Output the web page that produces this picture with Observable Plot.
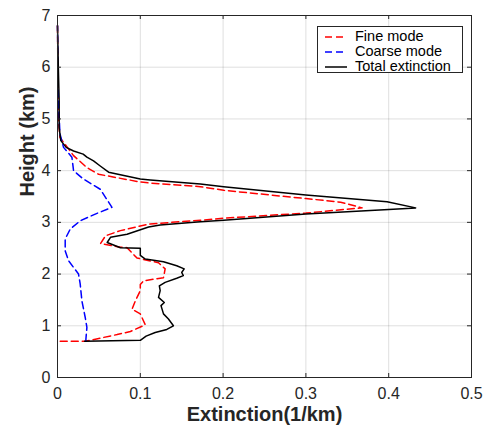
<!DOCTYPE html>
<html><head><meta charset="utf-8">
<script src="https://cdn.jsdelivr.net/npm/d3@7"></script>
<script src="https://cdn.jsdelivr.net/npm/@observablehq/plot@0.6"></script>
<style>
body{margin:0;background:#fff;}
#wrap{position:relative;width:488px;height:430px;font-family:"Liberation Sans",Arial,sans-serif;}
#legend{position:absolute;left:317px;top:26px;width:146px;height:47px;box-sizing:border-box;border:1px solid #262626;background:#fff;}
.row{position:absolute;left:0;height:15px;color:#000;white-space:nowrap;}
.row svg{position:absolute;left:6px;top:3px;}
.row span{position:absolute;left:37px;top:0;display:inline-block;height:15px;line-height:15px;font-size:14.5px;overflow:visible;}
</style></head><body><div id="wrap"></div>
<script>
const seriesNames = ["Fine mode", "Coarse mode", "Total extinction"];
const seriesColors = ["#ff0000", "#0000ff", "#000000"];
const xLabel = "Extinction(1/km)";
const yLabel = "Height (km)";
const xTicks = [0, 0.1, 0.2, 0.3, 0.4, 0.5];
const yTicks = [0, 1, 2, 3, 4, 5, 6, 7];

const fineHeight = [0.70, 0.70, 0.83, 0.89, 1.02, 1.23, 1.32, 1.48, 1.68, 1.80, 1.87, 1.93, 2.10, 2.22, 2.31, 2.51, 2.52, 2.59, 2.74, 2.84, 2.93, 2.97, 3.04, 3.08, 3.18, 3.28, 3.39, 3.46, 3.62, 3.69, 3.76, 3.78, 3.93, 4.06, 4.29, 4.64, 5.0, 6.8];
const fineExt = [0.0033, 0.0335, 0.072, 0.088, 0.106, 0.100, 0.090, 0.094, 0.100, 0.100, 0.104, 0.128, 0.130, 0.122, 0.096, 0.084, 0.076, 0.052, 0.058, 0.076, 0.100, 0.112, 0.1725, 0.2007, 0.300, 0.368, 0.342, 0.300, 0.2007, 0.1725, 0.112, 0.100, 0.0496, 0.0355, 0.0194, 0.003, 0.001, 0.0];

const coarseHeight = [0.70, 0.74, 0.97, 1.16, 1.48, 1.81, 2.00, 2.26, 2.45, 2.68, 2.87, 3.03, 3.16, 3.29, 3.64, 3.84, 4.00, 4.26, 4.45, 4.71, 5.35, 6.8];
const coarseExt = [0.0343, 0.0343, 0.0355, 0.0335, 0.0295, 0.0274, 0.0254, 0.0133, 0.0093, 0.0093, 0.0154, 0.0274, 0.0456, 0.0658, 0.0516, 0.031, 0.0194, 0.0174, 0.0073, 0.003, 0.001, 0.0];

const totalHeight = [0.70, 0.72, 0.80, 0.87, 0.93, 1.00, 1.13, 1.23, 1.39, 1.45, 1.55, 1.68, 1.77, 1.84, 1.92, 1.97, 2.03, 2.10, 2.16, 2.24, 2.29, 2.36, 2.50, 2.51, 2.61, 2.71, 2.77, 2.91, 2.95, 3.01, 3.04, 3.16, 3.25, 3.28, 3.40, 3.53, 3.69, 3.74, 3.82, 3.84, 3.97, 4.09, 4.19, 4.26, 4.32, 4.38, 4.45, 4.58, 4.83, 5.35, 6.0, 6.8];
const totalExt = [0.0327, 0.100, 0.107, 0.118, 0.132, 0.140, 0.134, 0.128, 0.125, 0.129, 0.122, 0.124, 0.123, 0.130, 0.144, 0.152, 0.150, 0.153, 0.144, 0.128, 0.106, 0.100, 0.100, 0.076, 0.060, 0.064, 0.084, 0.110, 0.124, 0.1725, 0.2007, 0.300, 0.400, 0.4326, 0.398, 0.300, 0.2007, 0.1725, 0.112, 0.100, 0.0617, 0.0516, 0.0435, 0.0355, 0.031, 0.0194, 0.0105, 0.004, 0.002, 0.002, 0.001, 0.0];

const toRows = (hs, vs) => hs.map((h, i) => ({h, v: vs[i]}));
const fine = toRows(fineHeight, fineExt);
const coarse = toRows(coarseHeight, coarseExt);
const total = toRows(totalHeight, totalExt);

const W = 488, H = 430, mL = 57, mR = 17, mT = 15, mB = 53;
const pw = W - mL - mR, ph = H - mT - mB;
const axisColor = "#262626";
const tickLen = 4;
const fmt = d => String(d);

const chart = Plot.plot({
  width: W, height: H,
  marginLeft: mL, marginRight: mR, marginTop: mT, marginBottom: mB,
  x: {domain: [0, 0.5]},
  y: {domain: [0, 7]},
  style: {fontFamily: "'Liberation Sans', Arial, sans-serif", fontSize: "16px", background: "#fff", color: axisColor, overflow: "visible"},
  marks: [
    Plot.gridX(xTicks, {stroke: axisColor, strokeOpacity: 0.15}),
    Plot.gridY(yTicks, {stroke: axisColor, strokeOpacity: 0.15}),
    Plot.line(fine, {x: "v", y: "h", stroke: seriesColors[0], strokeWidth: 1.5, strokeDasharray: "7,4"}),
    Plot.line(coarse, {x: "v", y: "h", stroke: seriesColors[1], strokeWidth: 1.5, strokeDasharray: "7,4"}),
    Plot.line(total, {x: "v", y: "h", stroke: seriesColors[2], strokeWidth: 1.5}),
    Plot.ruleX(xTicks, {x: d => d, insetTop: ph - tickLen, stroke: axisColor}),
    Plot.ruleX(xTicks, {x: d => d, insetBottom: ph - tickLen, stroke: axisColor}),
    Plot.ruleY(yTicks, {y: d => d, insetRight: pw - tickLen, stroke: axisColor}),
    Plot.ruleY(yTicks, {y: d => d, insetLeft: pw - tickLen, stroke: axisColor}),
    Plot.frame({stroke: axisColor, strokeWidth: 1}),
    Plot.axisX({ticks: xTicks, tickSize: 0, tickPadding: 10, tickFormat: fmt, label: null, fontSize: 16, fill: axisColor}),
    Plot.axisY({ticks: yTicks, tickSize: 0, tickPadding: 7, tickFormat: fmt, label: null, fontSize: 16, fill: axisColor}),
    Plot.text([xLabel], {text: d => d, frameAnchor: "bottom", dy: 43, fontSize: 20, fontWeight: "bold", fill: axisColor}),
    Plot.text([yLabel], {text: d => d, frameAnchor: "left", dx: -29.5, rotate: -90, fontSize: 20, fontWeight: "bold", fill: axisColor})
  ]
});

const wrap = document.getElementById("wrap");
wrap.appendChild(chart);

const legend = document.createElement("div");
legend.id = "legend";
seriesNames.forEach((name, i) => {
  const row = document.createElement("div");
  row.className = "row";
  row.style.top = (1.5 + i * 15.3) + "px";
  row.style.width = "100%";
  const dash = i < 2 ? "stroke-dasharray=\"7,4\"" : "";
  row.innerHTML = `<svg width="24" height="10"><line x1="1" y1="5" x2="23" y2="5" stroke="${seriesColors[i]}" stroke-width="1.5" ${dash}/></svg><span>${name}</span>`;
  legend.appendChild(row);
});
wrap.appendChild(legend);
</script>
</body></html>
